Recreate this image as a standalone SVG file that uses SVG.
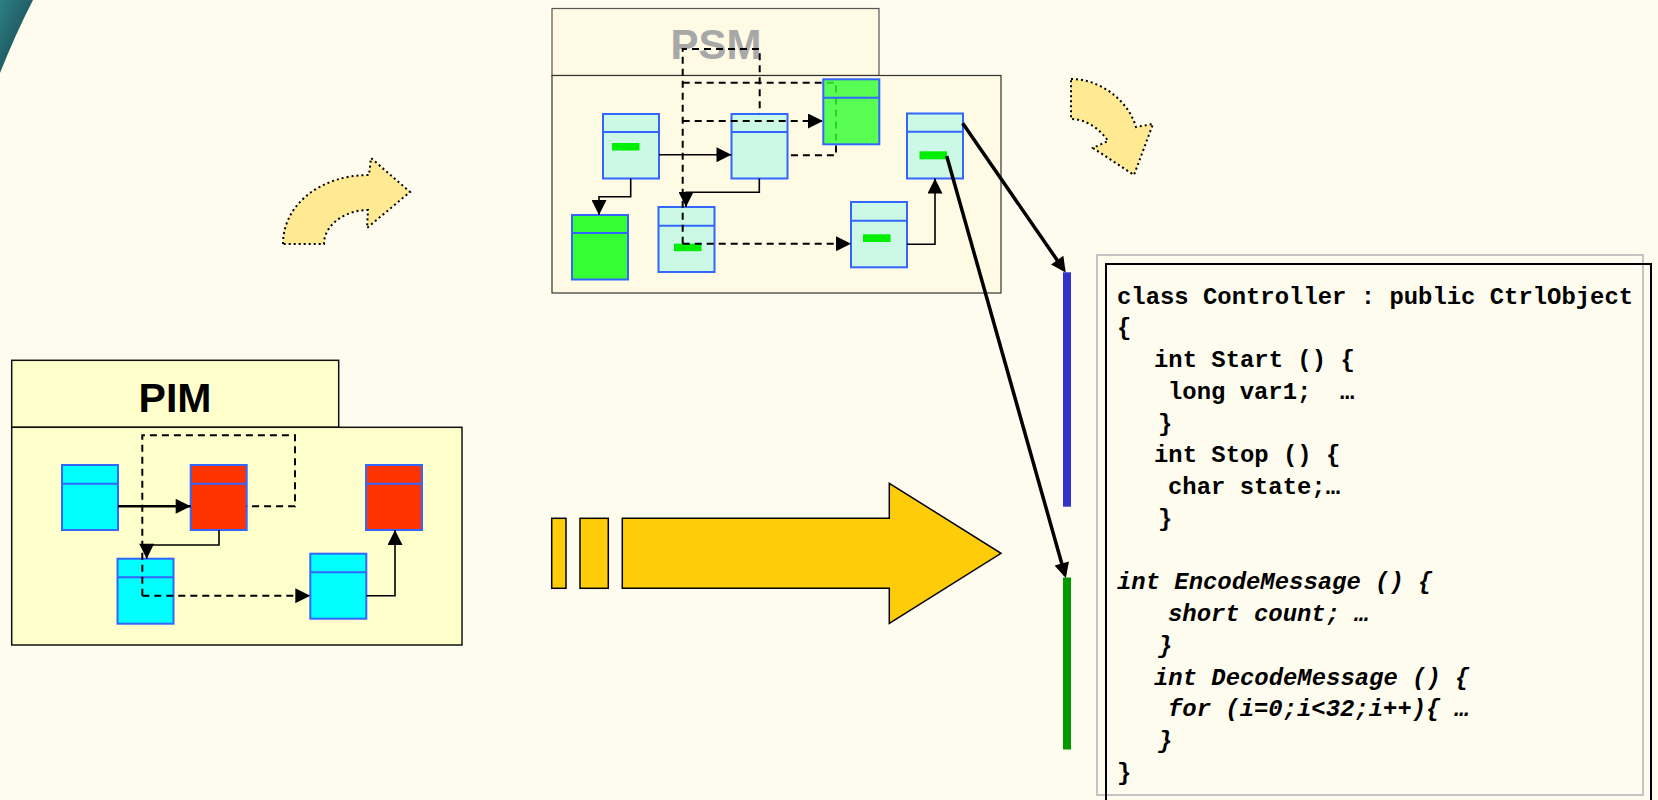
<svg xmlns="http://www.w3.org/2000/svg" width="1658" height="800" viewBox="0 0 1658 800">
<defs>
<linearGradient id="teal" x1="0" y1="0" x2="1" y2="1">
<stop offset="0" stop-color="#2E7F86"/>
<stop offset="1" stop-color="#123F44"/>
</linearGradient>
<marker id="ah" viewBox="0 0 10 10" refX="10" refY="5" markerWidth="16" markerHeight="15" markerUnits="userSpaceOnUse" orient="auto"><path d="M0,0 L10,5 L0,10 z" fill="#000"/></marker>
<marker id="ahl" viewBox="0 0 10 10" refX="8" refY="5" markerWidth="18" markerHeight="15" markerUnits="userSpaceOnUse" orient="auto"><path d="M0,0 L10,5 L0,10 z" fill="#000"/></marker>
<style>
.box{stroke:#3366FF;stroke-width:2}
.mint{fill:#CCF8E6}
.cyan{fill:#00FFFF}
.red{fill:#FF3300}
.grn{fill:#33FF33}
.bar{fill:#00EE00}
.sol{fill:none;stroke:#000;stroke-width:1.6}
.dsh{fill:none;stroke:#000;stroke-width:2;stroke-dasharray:7,5}
.code{font-family:"Liberation Mono","Courier New",monospace;font-weight:bold;font-size:23.9px;fill:#000}
.it{font-style:italic}
.curve{fill:#FFE992;stroke:#000;stroke-width:2;stroke-dasharray:2,3}
</style>
</defs>
<rect x="0" y="0" width="1658" height="800" fill="#FEFCEF"/>
<path d="M0,0 L33,0 Q15,35 0,73 Z" fill="url(#teal)"/>

<g id="psm-container">
<rect x="552" y="8.5" width="327" height="67" fill="#FEFAE4" stroke="#555" stroke-width="1.2"/>
<rect x="552" y="75.5" width="449" height="217.5" fill="#FEFAE4" stroke="#333" stroke-width="1.2"/>
<text x="716" y="59" text-anchor="middle" font-family="Liberation Sans, Arial, sans-serif" font-weight="bold" font-size="42" fill="#A8A8A8">PSM</text>
</g>
<g id="psm-a"><rect class="box mint" x="603" y="114" width="56" height="64.5"/><line class="box" x1="603" y1="132" x2="659" y2="132"/><rect class="bar" x="612" y="143" width="27.5" height="7.5"/></g>
<g id="psm-b"><rect class="box mint" x="731.5" y="114" width="56" height="64.5"/><line class="box" x1="731.5" y1="132" x2="787.5" y2="132"/></g>
<g id="psm-d"><rect class="box grn" x="572" y="215" width="56" height="64.5"/><line class="box" x1="572" y1="233" x2="628" y2="233"/></g>
<g id="psm-e"><rect class="box mint" x="658.5" y="207" width="56" height="65"/><line class="box" x1="658.5" y1="225.7" x2="714.5" y2="225.7"/><rect class="bar" x="674" y="243.7" width="27.5" height="7.5"/></g>
<g id="psm-f"><rect class="box mint" x="851" y="202" width="56" height="65.3"/><line class="box" x1="851" y1="220.7" x2="907" y2="220.7"/><rect class="bar" x="863" y="234.3" width="27.5" height="7.7"/></g>
<g id="psm-g"><rect class="box mint" x="907" y="113.5" width="56" height="65"/><line class="box" x1="907" y1="131.7" x2="963" y2="131.7"/><rect class="bar" x="919.5" y="151.3" width="27.5" height="8"/></g>

<g id="pim-container">
<rect x="11.7" y="360.3" width="327" height="67" fill="#FFFFCC" stroke="#111" stroke-width="1.5"/>
<rect x="11.7" y="427.3" width="450.3" height="217.7" fill="#FFFFCC" stroke="#111" stroke-width="1.5"/>
<text x="175" y="411.5" text-anchor="middle" font-family="Liberation Sans, Arial, sans-serif" font-weight="bold" font-size="41" fill="#000">PIM</text>
</g>
<g id="pim-1"><rect class="box cyan" x="62" y="465" width="56" height="65"/><line class="box" x1="62" y1="483.7" x2="118" y2="483.7"/></g>
<g id="pim-2"><rect class="box red" x="190.7" y="465" width="56" height="65"/><line class="box" x1="190.7" y1="483.7" x2="246.7" y2="483.7"/></g>
<g id="pim-3"><rect class="box red" x="366" y="465" width="56" height="65"/><line class="box" x1="366" y1="483.7" x2="422" y2="483.7"/></g>
<g id="pim-4"><rect class="box cyan" x="117.5" y="558.7" width="56" height="65"/><line class="box" x1="117.5" y1="577.3" x2="173.5" y2="577.3"/></g>
<g id="pim-5"><rect class="box cyan" x="310.3" y="553.7" width="56" height="65"/><line class="box" x1="310.3" y1="572.3" x2="366.3" y2="572.3"/></g>

<g id="transform-arrow">
<rect x="551.7" y="518.3" width="14.3" height="70" fill="#FFCC0A" stroke="#000" stroke-width="1.5"/>
<rect x="580" y="518.3" width="28.3" height="70" fill="#FFCC0A" stroke="#000" stroke-width="1.5"/>
<path d="M622.3,518.3 L889.3,518.3 L889.3,483.3 L1001,553.3 L889.3,623.3 L889.3,588.3 L622.3,588.3 Z" fill="#FFCC0A" stroke="#000" stroke-width="1.5"/>
</g>
<g id="curved-arrow-1">
<path class="curve" d="M283,244 C283,205 320,175 369,175 L371,158 L410,192 L367,228 L368,210 C345,210 324,225 324,244 Z"/>
</g>
<g id="curved-arrow-2">
<path class="curve" d="M1071,79 C1100,79 1128,100 1136,127 L1153,124 L1134,175 L1093,148 L1108,141 C1100,129 1086,119 1071,119 Z"/>
</g>

<g id="code-bars">
<rect x="1063" y="272.3" width="8" height="234.4" fill="#3333CC"/>
<rect x="1063" y="577.5" width="8" height="172" fill="#009900"/>
</g>

<g id="code">
<rect x="1097" y="255" width="546" height="540" fill="none" stroke="#C4C4C4" stroke-width="2"/>
<rect x="1106" y="264" width="545" height="545" fill="none" stroke="#000" stroke-width="2"/>
<text class="code" x="1117" y="303.5">class Controller : public CtrlObject</text>
<text class="code" x="1117" y="335.2">{</text>
<text class="code" x="1154" y="367">int Start () {</text>
<text class="code" x="1168" y="398.7" xml:space="preserve">long var1;  …</text>
<text class="code" x="1158" y="430.5">}</text>
<text class="code" x="1154" y="462.2">int Stop () {</text>
<text class="code" x="1168" y="494">char state;…</text>
<text class="code" x="1158" y="525.7">}</text>
<text class="code it" x="1117" y="589.2">int EncodeMessage () {</text>
<text class="code it" x="1168" y="621">short count; …</text>
<text class="code it" x="1158" y="652.7">}</text>
<text class="code it" x="1154" y="684.5">int DecodeMessage () {</text>
<text class="code it" x="1168" y="716.2">for (i=0;i&lt;32;i++){ …</text>
<text class="code it" x="1158" y="748">}</text>
<text class="code" x="1117" y="779.7">}</text>
</g>

<g id="connectors">
<path class="sol" d="M659,154.7 L731.5,154.7" marker-end="url(#ah)"/>
<path class="sol" d="M630.7,178.5 L630.7,196.7 L599,196.7 L599,215" marker-end="url(#ah)"/>
<path class="sol" d="M759.3,178.5 L759.3,192.3 L686,192.3 L686,207" marker-end="url(#ah)"/>
<path class="sol" d="M907,244.3 L935,244.3 L935,178.5" marker-end="url(#ah)"/>
<path class="dsh" d="M682.7,243.7 L682.7,49 L759.7,49 L759.7,113.5"/>
<path class="dsh" d="M682.7,82.7 L836,82.7 L836,155.3 L787.5,155.3"/>
<path class="dsh" d="M682.7,121 L823,121" marker-end="url(#ah)"/>
<path class="dsh" d="M682.7,243.7 L851,243.7" marker-end="url(#ah)"/>
<path class="sol" style="stroke-width:2.6" d="M118,506.3 L190.7,506.3" marker-end="url(#ah)"/>
<path class="sol" d="M219,530 L219,545 L146.7,545 L146.7,558.7" marker-end="url(#ah)"/>
<path class="sol" d="M366.3,595.7 L395,595.7 L395,530" marker-end="url(#ah)"/>
<path class="dsh" d="M142.3,595.7 L142.3,435.3 L295,435.3 L295,506.3 L246.7,506.3"/>
<path class="dsh" d="M142.3,595.7 L310.3,595.7" marker-end="url(#ah)"/>
<path fill="none" stroke="#000" stroke-width="3.5" d="M962.7,123.3 L1064,270" marker-end="url(#ahl)"/>
<path fill="none" stroke="#000" stroke-width="3.5" d="M946.7,156 L1065,575" marker-end="url(#ahl)"/>
</g>

<g id="psm-c"><rect class="box" fill="#33FF33" fill-opacity="0.82" x="823.3" y="79.3" width="56" height="65"/><line class="box" x1="823.3" y1="97.7" x2="879.3" y2="97.7"/></g>
</svg>
